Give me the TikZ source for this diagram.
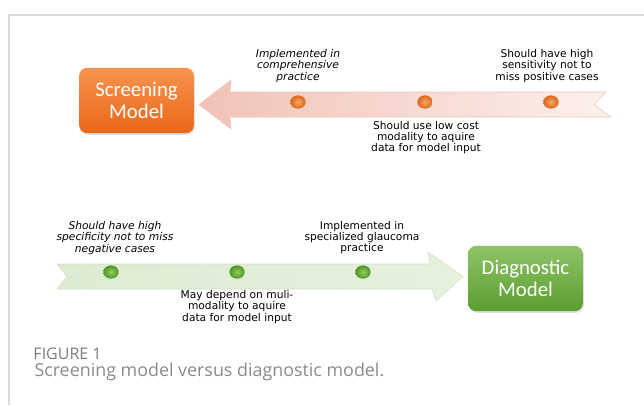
\documentclass[tikz,border=0pt]{standalone}
\usepackage{fontspec}
\setmainfont{DejaVu Sans}
\newfontfamily\boxfont{Carlito}
\newfontfamily\capfont{Open Sans}
\usetikzlibrary{shapes.geometric,shadows}

\definecolor{scrtop}{HTML}{F6944F}
\definecolor{scrbot}{HTML}{EA6718}
\definecolor{diatop}{HTML}{8EC466}
\definecolor{diabot}{HTML}{5C9D30}
\definecolor{pinkhead}{HTML}{F1C2B6}
\definecolor{pinktail}{HTML}{FCF0EC}
\definecolor{pinkedge}{HTML}{EDC4BA}
\definecolor{greentail}{HTML}{DCEBD2}
\definecolor{greenhead}{HTML}{E6F1DE}
\definecolor{greenedge}{HTML}{CFE2C3}
\definecolor{orangelite}{HTML}{F8A662}
\definecolor{orangedark}{HTML}{D9671D}
\definecolor{greenlite}{HTML}{92CF5E}
\definecolor{greendark}{HTML}{4F9426}
\definecolor{framegray}{HTML}{DADADA}
\definecolor{capgray}{HTML}{8A8A8A}

\tikzset{every picture/.style={line width=0.75pt}}
\tikzset{
  modelbox/.style={rounded corners=6pt, minimum width=86pt, minimum height=49pt,
    align=center, text=white, font=\boxfont\fontsize{15.6}{16.5}\selectfont,
    drop shadow={shadow xshift=0.8pt, shadow yshift=-1.2pt, opacity=0.25}},
  note/.style={align=center, text=black, font=\fontsize{8}{8.5}\selectfont},
  dot/.style={ellipse, inner sep=0pt, minimum width=11.5pt, minimum height=10pt},
}

\begin{document}
\begin{tikzpicture}[x=0.75pt,y=0.75pt,yscale=-1,xscale=1]
\path[use as bounding box] (0,0) rectangle (644,405);

%Frame lines
\draw[framegray, line width=0.8pt] (9,405) -- (9,15) -- (644,15);

%Shape: Arrow pointing left [screening]
\draw[pinkedge, line width=0.4pt, left color=pinkhead, right color=pinktail]
  (199,104.5) -- (231,80) -- (230,92) -- (606,92) -- (594,104.5) -- (611,117)
  -- (230,117) -- (231,129) -- cycle ;
%Shape: Arrow pointing right [diagnostic]
\draw[greenedge, line width=0.4pt, left color=greentail, right color=greenhead]
  (57,264) -- (430,264) -- (428,252) -- (463,276.5) -- (436,301) -- (432,289)
  -- (57,289) -- (67,276.5) -- cycle ;

%Shape: Rounded Rectangle [screening]
\node[modelbox, top color=scrtop, bottom color=scrbot] (screen) at (136.5,100.5) {Screening\\Model};
%Shape: Rounded Rectangle [diagnostic]
\node[modelbox, top color=diatop, bottom color=diabot] (diag) at (525.5,278.5) {Diagnostic\\Model};

%Milestones on the arrows
\node[dot, inner color=orangelite, outer color=orangedark] (sa) at (298,102) {};
\node[dot, inner color=orangelite, outer color=orangedark] (sb) at (425,102) {};
\node[dot, inner color=orangelite, outer color=orangedark] (sc) at (551,102) {};
\node[dot, inner color=greenlite, outer color=greendark] (da) at (111,272) {};
\node[dot, inner color=greenlite, outer color=greendark] (db) at (237,272) {};
\node[dot, inner color=greenlite, outer color=greendark] (dc) at (363,272) {};

% Text Node
\node[note, font=\itshape\fontsize{8}{8.5}\selectfont] (sanote) at (298,66) {Implemented in\\comprehensive\\practice};
% Text Node
\node[note] (sbnote) at (426,137.5) {Should use low cost\\modality to aquire\\data for model input};
% Text Node
\node[note] (scnote) at (547,66) {Should have high\\sensitivity not to\\miss positive cases};
% Text Node
\node[note, font=\itshape\fontsize{8}{8.5}\selectfont] (danote) at (115,238) {Should have high\\specificity not to miss\\negative cases};
% Text Node
\node[note] (dbnote) at (237,307) {May depend on muli-\\modality to aquire\\data for model input};
% Text Node
\node[note] (dcnote) at (362,237.5) {Implemented in\\specialized glaucoma\\practice};

% Caption
\node[anchor=west, inner sep=0pt, text=capgray!90!black, font=\capfont\fontsize{12}{13}\selectfont] (fig) at (33,353.5) {FIGURE 1};
\node[anchor=west, inner sep=0pt, text=capgray, font=\capfont\fontsize{13.4}{15}\selectfont] (caption) at (34,372) {Screening model versus diagnostic model.};

\end{tikzpicture}
\end{document}
